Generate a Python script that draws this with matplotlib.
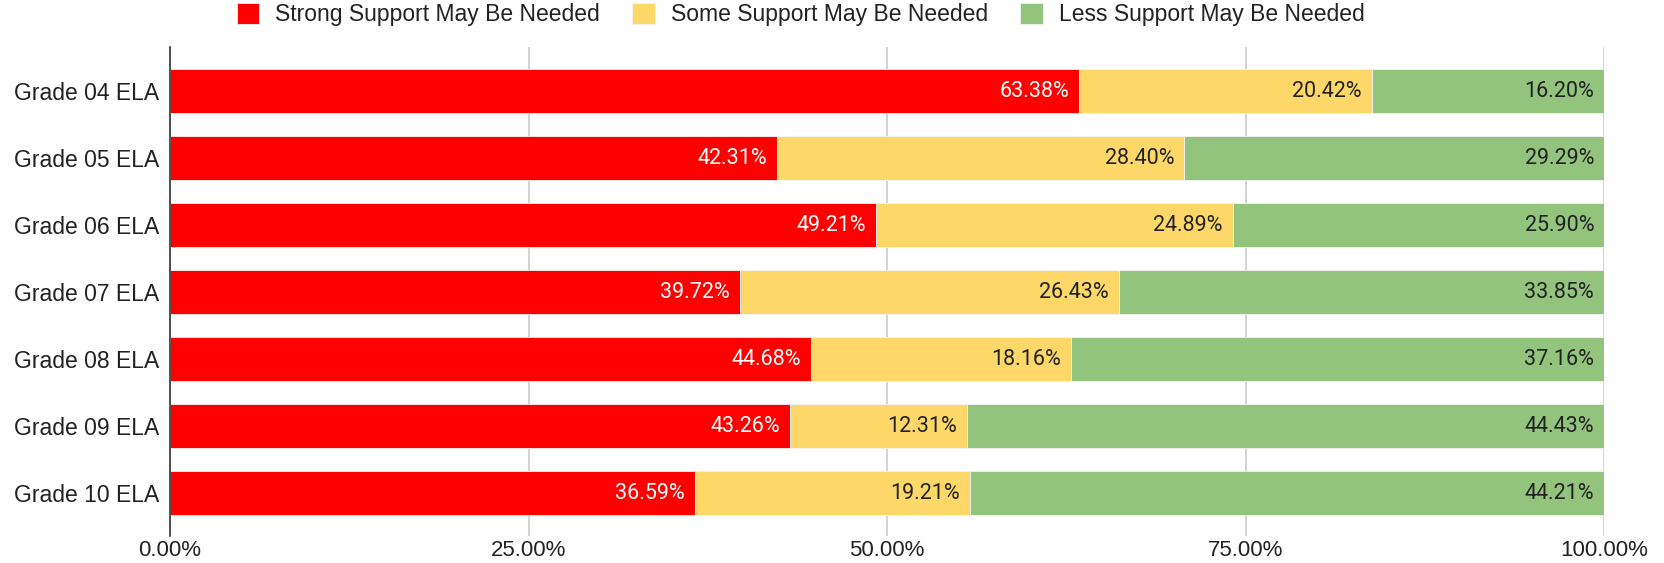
import matplotlib

matplotlib.use("Agg")
import matplotlib.pyplot as plt
import numpy as np

grades = [
    "Grade 04 ELA",
    "Grade 05 ELA",
    "Grade 06 ELA",
    "Grade 07 ELA",
    "Grade 08 ELA",
    "Grade 09 ELA",
    "Grade 10 ELA",
]
strong = [63.38, 42.31, 49.21, 39.72, 44.68, 43.26, 36.59]
some = [20.42, 28.40, 24.89, 26.43, 18.16, 12.31, 19.21]
less = [16.20, 29.29, 25.90, 33.85, 37.16, 44.43, 44.21]
series_names = [
    "Strong Support May Be Needed",
    "Some Support May Be Needed",
    "Less Support May Be Needed",
]
x_ticks = [0, 25, 50, 75, 100]

colors = ["#ff0000", "#fdd868", "#93c47d"]
label_colors = ["#ffffff", "#222222", "#222222"]

fig = plt.figure(figsize=(16.65, 5.63), dpi=100)
ax = fig.add_axes([0.1021, 0.048, 0.8613, 0.8685])

y = np.arange(len(grades))
left = np.zeros(len(grades))
for name, values, color, tcolor in zip(
    series_names, [strong, some, less], colors, label_colors
):
    values = np.array(values)
    ax.barh(y, values, left=left, height=0.65, color=color, label=name,
            edgecolor="#f4f4f4", linewidth=0.6, zorder=3)
    for yi, (l, v) in enumerate(zip(left, values)):
        ax.annotate(f"{v:.2f}%", xy=(l + v, yi), xytext=(-10, 0),
                    textcoords="offset pixels", ha="right", va="center",
                    fontsize=15.5, family="Roboto", color=tcolor, zorder=4)
    left = left + values

ax.set_xlim(0, 100)
ax.set_ylim(len(grades) - 1 + 0.64, -0.66)
ax.set_yticks(y)
ax.set_yticklabels(grades, family="Liberation Sans", fontsize=16.5, color="#222222")
ax.set_xticks(x_ticks)
ax.set_xticklabels([f"{t:.2f}%" for t in x_ticks], family="Liberation Sans",
                   fontsize=16, color="#222222")
ax.tick_params(length=0)
ax.tick_params(axis="y", pad=8)
ax.tick_params(axis="x", pad=3)
ax.grid(axis="x", color="#cccccc", linewidth=1.2, zorder=0)
for side in ["top", "right", "bottom"]:
    ax.spines[side].set_visible(False)
ax.spines["left"].set_color("#333333")
ax.spines["left"].set_linewidth(1.2)
ax.spines["left"].set_zorder(5)

fig.legend(
    loc="center",
    bbox_to_anchor=(0.481, 0.974),
    ncol=3,
    frameon=False,
    prop={"family": "Liberation Sans", "size": 16.5},
    labelcolor="#222222",
    handlelength=1.0,
    handleheight=1.0,
    handletextpad=0.7,
    columnspacing=1.4,
)

fig.savefig("out.png", dpi=100)
plt.close(fig)
